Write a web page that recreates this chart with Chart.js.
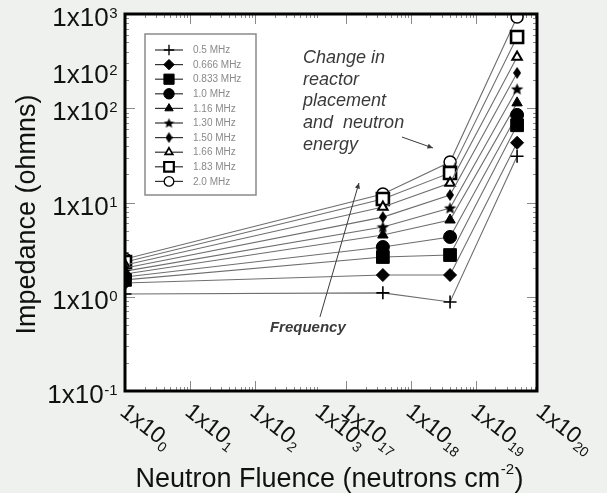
<!DOCTYPE html>
<html>
<head>
<meta charset="utf-8">
<script src="https://cdn.jsdelivr.net/npm/chart.js@4.4.1/dist/chart.umd.min.js"></script>
<style>
html,body{margin:0;padding:0;background:#eef1ee;overflow:hidden}
canvas{display:block}
</style>
</head>
<body>
<canvas id="c" width="607" height="493"></canvas>
<script>
// ---------------- data ----------------
const frequencyLabels = ['0.5 MHz','0.666 MHz','0.833 MHz','1.0 MHz','1.16 MHz','1.30 MHz','1.50 MHz','1.66 MHz','1.83 MHz','2.0 MHz'];
const fluence = [1, 3.7e17, 4.0e18, 4.3e19];           // neutrons cm^-2
const imp05   = [1.07, 1.10, 0.88, 31];
const imp0666 = [1.40, 1.70, 1.70, 43];
const imp0833 = [1.51, 2.64, 2.77, 66];
const imp10   = [1.62, 3.37, 4.31, 85];
const imp116  = [1.74, 4.52, 6.52, 114];
const imp130  = [1.87, 5.5, 8.74, 160];
const imp150  = [2.02, 7.0, 12.0, 237];
const imp166  = [2.17, 8.96, 16.1, 350];
const imp183  = [2.34, 10.9, 20.6, 570];
const imp20   = [2.51, 12.3, 26.9, 930];
const series = [imp05, imp0666, imp0833, imp10, imp116, imp130, imp150, imp166, imp183, imp20];

const yTickValues = [0.1, 1, 10, 100, 250, 1000];
const yTickExps   = ['-1', '0', '1', '2', '2', '3'];
const xTickValues = [1e0, 1e1, 1e2, 1e3, 1e17, 1e18, 1e19, 1e20];
const xTickExps   = ['0', '1', '2', '3', '17', '18', '19', '20'];
const yTitle = 'Impedance (ohmns)';
const xTitleMain = 'Neutron Fluence (neutrons cm';
const xTitleExp = '-2';
const xTitleEnd = ')';
const noteLines = ['Change in', 'reactor', 'placement', 'and  neutron', 'energy'];
const noteFreq = 'Frequency';

// ---------------- broken log axis mapping ----------------
const BREAK_FROM = 17, BREAK_TO = 3.4;
function axisPos(f){ const e = Math.log10(f); return e < 10 ? e : e - BREAK_FROM + BREAK_TO; }
const X_MAX = 6.34;

// ---------------- marker images ----------------
function makeStar(size){
  const c = document.createElement('canvas'); c.width = c.height = size;
  const g = c.getContext('2d'); g.fillStyle = '#000'; g.beginPath();
  const R = size/2, r = R*0.45;
  for (let k=0;k<10;k++){ const a = -Math.PI/2 + k*Math.PI/5; const rr = k%2 ? r : R;
    g.lineTo(R + rr*Math.cos(a), R + rr*Math.sin(a)*0.95 + 0.5); }
  g.closePath(); g.fill(); return c;
}
function makeTallDiamond(w, h){
  const c = document.createElement('canvas'); c.width = w; c.height = h;
  const g = c.getContext('2d'); g.fillStyle = '#000'; g.beginPath();
  g.moveTo(w/2, 0); g.lineTo(w, h/2); g.lineTo(w/2, h); g.lineTo(0, h/2); g.closePath(); g.fill(); return c;
}
const starImg = makeStar(13), starImgSmall = makeStar(11);
const tallImg = makeTallDiamond(8, 12), tallImgSmall = makeTallDiamond(7, 11);

const markerStyles = [
  {style:'cross',    r:6.5, fill:'#000', bw:1.6},
  {style:'rectRot',  r:6.5, fill:'#000', bw:1},
  {style:'rect',     r:9,   fill:'#000', bw:1},
  {style:'circle',   r:6.5, fill:'#000', bw:1},
  {style:'triangle', r:6,   fill:'#000', bw:1},
  {style:starImg,    r:6,   fill:'#000', bw:1, legend:starImgSmall},
  {style:tallImg,    r:6,   fill:'#000', bw:1, legend:tallImgSmall},
  {style:'triangle', r:5.5, fill:'#fff', bw:2},
  {style:'rect',     r:8.5, fill:'#fff', bw:2.6},
  {style:'circle',   r:6,   fill:'#fff', bw:1.5}
];

const datasets = series.map((vals, i) => ({
  label: frequencyLabels[i],
  data: fluence.map((f, j) => ({x: axisPos(f), y: vals[j]})),
  borderColor: '#6e6e6e',
  borderWidth: 1.1,
  pointStyle: markerStyles[i].style,
  pointRadius: markerStyles[i].r,
  pointBackgroundColor: markerStyles[i].fill,
  pointBorderColor: '#000',
  pointBorderWidth: markerStyles[i].bw,
  fill: false,
  tension: 0,
  clip: 0
}));

const FONT = '"Liberation Sans", Arial, sans-serif';

function line(ctx, x1, y1, x2, y2){ ctx.beginPath(); ctx.moveTo(x1, y1); ctx.lineTo(x2, y2); ctx.stroke(); }

const decor = {
  id: 'decor',
  beforeDraw(chart){
    const {ctx, chartArea: ca, width, height} = chart;
    ctx.save();
    ctx.fillStyle = '#eef1ee'; ctx.fillRect(0, 0, width, height);
    ctx.fillStyle = '#ffffff'; ctx.fillRect(ca.left, ca.top, ca.right - ca.left, ca.bottom - ca.top);
    ctx.restore();
  },
  beforeDatasetsDraw(chart){
    const {ctx, chartArea: ca, scales:{x: xs, y: ys}} = chart;
    ctx.save();
    ctx.strokeStyle = '#8a8a8a'; ctx.lineWidth = 1;
    // inner y ticks (left & right)
    for (let d = -1; d <= 2; d++){
      for (let m = 1; m <= 9; m++){
        const v = m * Math.pow(10, d);
        const y = Math.round(ys.getPixelForValue(v)) + 0.5;
        const len = m === 1 ? 10 : 4;
        line(ctx, ca.left, y, ca.left + len, y);
        line(ctx, ca.right - len, y, ca.right, y);
      }
    }
    // inner x ticks (top & bottom), both axis segments
    const segs = [[0, 3], [17, 20]];
    segs.forEach(([a, b]) => {
      for (let e = a; e < b; e++){
        for (let m = 1; m <= 9; m++){
          const u = axisPos(m * Math.pow(10, e));
          if (u <= 0.05 || u > X_MAX) continue;
          const x = Math.round(xs.getPixelForValue(u)) + 0.5;
          const len = m === 1 ? 10 : 4;
          line(ctx, x, ca.bottom, x, ca.bottom - len);
          line(ctx, x, ca.top, x, ca.top + len);
        }
      }
    });
    ctx.restore();
  },
  afterDatasetsDraw(chart){
    const {ctx, chartArea: ca, scales:{x: xs, y: ys}} = chart;
    const P = (u, v) => [xs.getPixelForValue(u), ys.getPixelForValue(v)];
    ctx.save();
    // frame
    ctx.strokeStyle = '#000'; ctx.lineWidth = 3;
    ctx.strokeRect(ca.left, ca.top, ca.right - ca.left, ca.bottom - ca.top);

    // legend
    const lx = ca.left + 20, ly = ca.top + 20, lw = 111, lh = 161;
    ctx.fillStyle = '#fff'; ctx.fillRect(lx, ly, lw, lh);
    ctx.strokeStyle = '#8a8a8a'; ctx.lineWidth = 1.5; ctx.strokeRect(lx, ly, lw, lh);
    datasets.forEach((ds, i) => {
      const ry = ly + 16 + i * 14.6;
      ctx.strokeStyle = '#333'; ctx.lineWidth = 1.2;
      line(ctx, lx + 10, ry, lx + 38, ry);
      const ms = markerStyles[i];
      ctx.fillStyle = ms.fill; ctx.strokeStyle = '#000';
      const opt = {pointStyle: ms.legend || ms.style, radius: ms.r * 0.8, borderWidth: Math.max(1, ms.bw * 0.85), rotation: 0};
      ctx.lineWidth = opt.borderWidth;
      Chart.helpers.drawPoint(ctx, opt, lx + 24, ry);
      ctx.fillStyle = '#8a8a8a'; ctx.font = '10px ' + FONT;
      ctx.textAlign = 'left'; ctx.textBaseline = 'middle';
      ctx.fillText(ds.label, lx + 48, ry + 0.5);
    });

    // annotations
    ctx.fillStyle = '#3a3a3a'; ctx.strokeStyle = '#3a3a3a'; ctx.lineWidth = 1;
    ctx.font = 'italic 18px ' + FONT; ctx.textAlign = 'left'; ctx.textBaseline = 'middle';
    const [nx, ny] = P(2.74, 341);
    noteLines.forEach((t, k) => ctx.fillText(t, nx, ny + k * 21.7));
    ctx.font = 'italic 600 15px ' + FONT;
    const [fx, fy] = P(2.23, 0.466);
    ctx.fillText(noteFreq, fx, fy);
    const arrow = (a, b) => {
      line(ctx, a[0], a[1], b[0], b[1]);
      const ang = Math.atan2(b[1] - a[1], b[0] - a[0]);
      ctx.beginPath();
      ctx.moveTo(b[0], b[1]);
      ctx.lineTo(b[0] - 6 * Math.cos(ang - 0.45), b[1] - 6 * Math.sin(ang - 0.45));
      ctx.lineTo(b[0] - 6 * Math.cos(ang + 0.45), b[1] - 6 * Math.sin(ang + 0.45));
      ctx.closePath(); ctx.fill();
    };
    arrow(P(3.0, 0.61), P(3.6, 16.1));
    arrow(P(4.262, 49.5), P(4.738, 37.9));

    // y tick labels
    ctx.fillStyle = '#111'; ctx.textBaseline = 'alphabetic'; ctx.textAlign = 'left';
    const MAIN = '26px ' + FONT, SUP = '15px ' + FONT;
    yTickValues.forEach((v, i) => {
      const yc = ys.getPixelForValue(v) + 3;
      ctx.font = MAIN; const wb = ctx.measureText('1x10').width;
      ctx.font = SUP; const we = ctx.measureText(yTickExps[i]).width;
      const x0 = ca.left - 8 - we - wb;
      ctx.font = MAIN; ctx.fillText('1x10', x0, yc + 9);
      ctx.font = SUP; ctx.fillText(yTickExps[i], x0 + wb + 0.5, yc + 1);
    });

    // x tick labels (rotated)
    const ANG = 38 * Math.PI / 180;
    xTickValues.forEach((f, i) => {
      const px = xs.getPixelForValue(axisPos(f)) + 4;
      const py = ca.bottom + 10;
      ctx.save();
      ctx.translate(px, py); ctx.rotate(ANG);
      ctx.font = '23px ' + FONT; const wb = ctx.measureText('1x10').width;
      ctx.fillText('1x10', 0, 16.5);
      ctx.font = '14px ' + FONT; ctx.fillText(xTickExps[i], wb + 0.5, 20.5);
      ctx.restore();
    });

    // x title
    ctx.font = '27px ' + FONT; const w1 = ctx.measureText(xTitleMain).width; const w3 = ctx.measureText(xTitleEnd).width;
    ctx.font = '15px ' + FONT; const w2 = ctx.measureText(xTitleExp).width;
    let tx = (ca.left + ca.right) / 2 - 2 - (w1 + w2 + w3) / 2;
    const tb = ca.bottom + 96;
    ctx.font = '27px ' + FONT; ctx.fillText(xTitleMain, tx, tb);
    ctx.font = '15px ' + FONT; ctx.fillText(xTitleExp, tx + w1 + 0.5, tb - 13);
    ctx.font = '27px ' + FONT; ctx.fillText(xTitleEnd, tx + w1 + w2 + 1, tb);

    // y title
    ctx.save();
    ctx.translate(ca.left - 90, (ca.top + ca.bottom) / 2 + 12);
    ctx.rotate(-Math.PI / 2);
    ctx.font = '27px ' + FONT; ctx.textAlign = 'center'; ctx.textBaseline = 'alphabetic';
    ctx.fillText(yTitle, 0, 0);
    ctx.restore();

    ctx.restore();
  }
};

new Chart(document.getElementById('c'), {
  type: 'line',
  data: { datasets },
  options: {
    responsive: false,
    animation: false,
    devicePixelRatio: 1,
    layout: { padding: { left: 125, top: 14, right: 70, bottom: 102 } },
    plugins: { legend: { display: false }, tooltip: { enabled: false } },
    scales: {
      x: { type: 'linear', display: false, min: 0, max: X_MAX },
      y: { type: 'logarithmic', display: false, min: 0.1, max: 1000 }
    }
  },
  plugins: [decor]
});
</script>
</body>
</html>
